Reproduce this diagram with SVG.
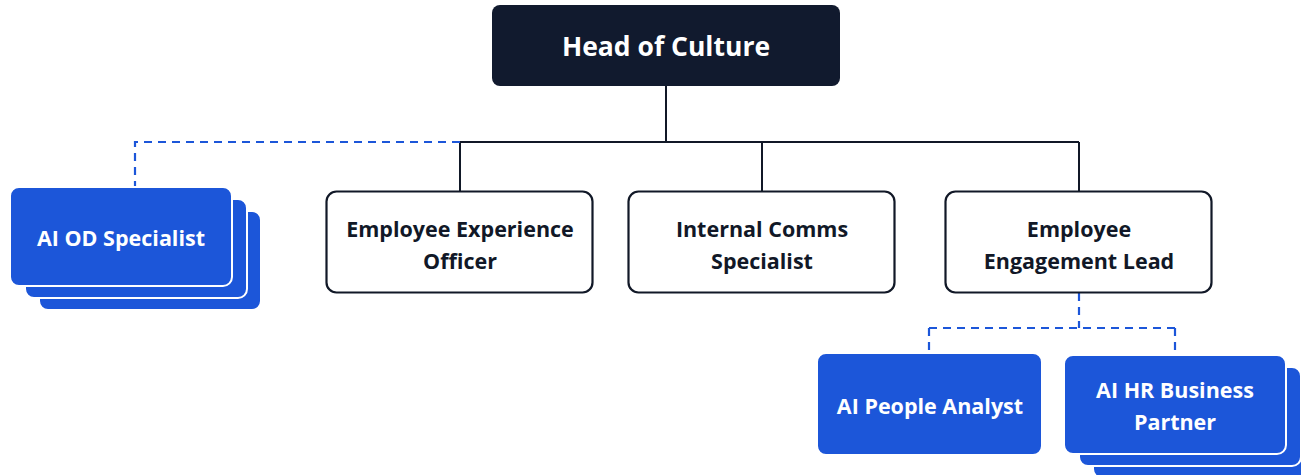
<svg xmlns="http://www.w3.org/2000/svg" width="1301" height="475" viewBox="0 0 1301 475">
  <style>
    .lbl { font-family: "Open Sans", "Liberation Sans", sans-serif; font-weight: 700; text-anchor: middle; dominant-baseline: central; }
    .dark { fill: #111827; font-size: 21.5px; }
    .light { fill: #ffffff; font-size: 21.5px; }
    .head { fill: #ffffff; font-size: 26.5px; }
    .box { fill: #ffffff; stroke: #111827; stroke-width: 2.2; }
    .ai { fill: #1c56d9; stroke: #ffffff; stroke-width: 2; }
    .solid { fill: none; stroke: #111827; stroke-width: 2; }
    .dash { fill: none; stroke: #1c56d9; stroke-width: 2.2; stroke-dasharray: 8 6; }
  </style>

  <g id="connectors">
    <path class="solid" d="M666 86 V142 M460 142 H1079 M460 142 V191 M762 142 V191 M1079 142 V191"/>
    <path class="dash" d="M460 142 H135 V187"/>
    <path class="dash" d="M1079 293 V328 M929 328 H1175 M929 328 V353 M1175 328 V355"/>
  </g>

  <g id="head-of-culture">
    <rect x="492" y="5" width="348" height="81" rx="8" fill="#111a2e"/>
    <text class="lbl head" x="666" y="46">Head of Culture</text>
  </g>

  <g id="ai-od-specialist">
    <rect class="ai" x="39" y="211" width="222" height="99" rx="9"/>
    <rect class="ai" x="25" y="199" width="222" height="99" rx="9"/>
    <rect class="ai" x="10" y="187" width="222" height="99" rx="9"/>
    <text class="lbl light" x="121" y="237">AI OD Specialist</text>
  </g>

  <g id="employee-experience-officer">
    <rect class="box" x="326.5" y="191.5" width="266" height="101" rx="10"/>
    <text class="lbl dark" x="460" y="228">Employee Experience</text>
    <text class="lbl dark" x="460" y="260">Officer</text>
  </g>

  <g id="internal-comms-specialist">
    <rect class="box" x="628.5" y="191.5" width="266" height="101" rx="10"/>
    <text class="lbl dark" x="762" y="228">Internal Comms</text>
    <text class="lbl dark" x="762" y="260">Specialist</text>
  </g>

  <g id="employee-engagement-lead">
    <rect class="box" x="945.5" y="191.5" width="266" height="101" rx="10"/>
    <text class="lbl dark" x="1079" y="228">Employee</text>
    <text class="lbl dark" x="1079" y="260">Engagement Lead</text>
  </g>

  <g id="ai-people-analyst">
    <rect class="ai" x="817" y="353" width="225" height="102" rx="9"/>
    <text class="lbl light" x="930" y="405">AI People Analyst</text>
  </g>

  <g id="ai-hr-business-partner">
    <rect class="ai" x="1093" y="379" width="222" height="99" rx="9"/>
    <rect class="ai" x="1079" y="367" width="222" height="99" rx="9"/>
    <rect class="ai" x="1064" y="355" width="222" height="99" rx="9"/>
    <text class="lbl light" x="1175" y="389">AI HR Business</text>
    <text class="lbl light" x="1175" y="421">Partner</text>
  </g>
</svg>
